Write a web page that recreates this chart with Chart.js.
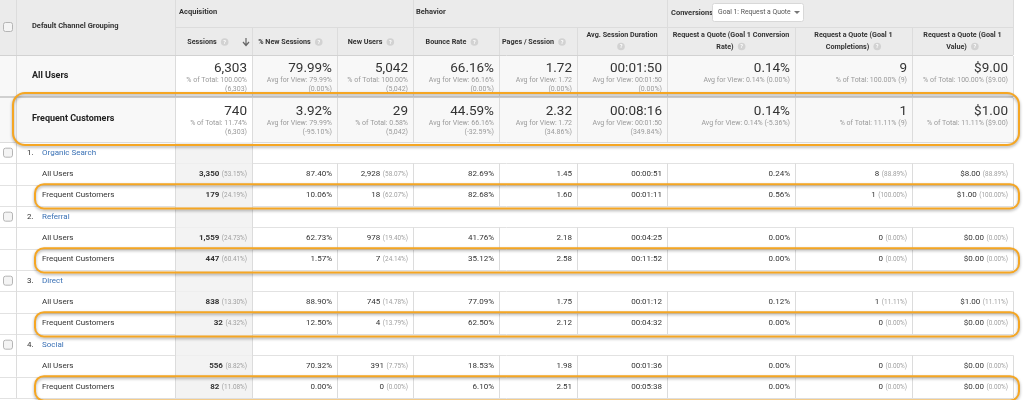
<!DOCTYPE html>
<html>
<head>
<meta charset="utf-8">
<script src="https://cdn.jsdelivr.net/npm/chart.js@4.4.0/dist/chart.umd.min.js"></script>
<style>
  html, body { margin: 0; padding: 0; background: #fff; }
  #wrap { position: relative; width: 1024px; height: 400px; }
</style>
</head>
<body>
<div id="wrap"><canvas id="c"></canvas></div>
<script>
// headers
const groupTitles = ['Acquisition', 'Behavior', 'Conversions'];
const metricHeaders = [
  ['Sessions'], ['% New Sessions'], ['New Users'], ['Bounce Rate'], ['Pages / Session'],
  ['Avg. Session Duration', ''], ['Request a Quote (Goal 1 Conversion', 'Rate)'],
  ['Request a Quote (Goal 1', 'Completions)'], ['Request a Quote (Goal 1', 'Value)']
];
const goalOption = 'Goal 1: Request a Quote';
const channels = ['Organic Search', 'Referral', 'Direct', 'Social'];
const segments = ['All Users', 'Frequent Customers'];

// summary rows
const allUsersTotals = [6303, 79.99, 5042, 66.16, 1.72, 110, 0.14, 9, 9.00];
const allUsersNotes = [
  ['% of Total: 100.00%', '(6,303)'], ['Avg for View: 79.99%', '(0.00%)'], ['% of Total: 100.00%', '(5,042)'],
  ['Avg for View: 66.16%', '(0.00%)'], ['Avg for View: 1.72', '(0.00%)'], ['Avg for View: 00:01:50', '(0.00%)'],
  ['Avg for View: 0.14% (0.00%)'], ['% of Total: 100.00% (9)'], ['% of Total: 100.00% ($9.00)']
];
const frequentTotals = [740, 3.92, 29, 44.59, 2.32, 496, 0.14, 1, 1.00];
const frequentNotes = [
  ['% of Total: 11.74%', '(6,303)'], ['Avg for View: 79.99%', '(-95.10%)'], ['% of Total: 0.58%', '(5,042)'],
  ['Avg for View: 66.16%', '(-32.59%)'], ['Avg for View: 1.72', '(34.86%)'], ['Avg for View: 00:01:50', '(349.84%)'],
  ['Avg for View: 0.14% (-5.36%)'], ['% of Total: 11.11% (9)'], ['% of Total: 11.11% ($9.00)']
];

// channel rows: All Users / Frequent Customers for each channel
const sessions = [3350, 179, 1559, 447, 838, 32, 556, 82];
const sessionsShare = [53.15, 24.19, 24.73, 60.41, 13.30, 4.32, 8.82, 11.08];
const newSessionsPct = [87.40, 10.06, 62.73, 1.57, 88.90, 12.50, 70.32, 0.00];
const newUsers = [2928, 18, 978, 7, 745, 4, 391, 0];
const newUsersShare = [58.07, 62.07, 19.40, 24.14, 14.78, 13.79, 7.75, 0.00];
const bounceRate = [82.69, 82.68, 41.76, 35.12, 77.09, 62.50, 18.53, 6.10];
const pagesPerSession = [1.45, 1.60, 2.18, 2.58, 1.75, 2.12, 1.98, 2.51];
const avgDurationSec = [51, 71, 265, 712, 72, 272, 96, 338];
const convRate = [0.24, 0.56, 0.00, 0.00, 0.12, 0.00, 0.00, 0.00];
const completions = [8, 1, 0, 0, 1, 0, 0, 0];
const completionsShare = [88.89, 100.00, 0.00, 0.00, 11.11, 0.00, 0.00, 0.00];
const goalValue = [8, 1, 0, 0, 1, 0, 0, 0];
const valueShare = [88.89, 100.00, 0.00, 0.00, 11.11, 0.00, 0.00, 0.00];

// formatting
const fInt = (n) => n.toLocaleString('en-US');
const fPct = (n) => n.toFixed(2) + '%';
const fDec = (n) => n.toFixed(2);
const fMoney = (n) => '$' + n.toFixed(2);
const pad = (n) => String(n).padStart(2, '0');
const fDur = (s) => pad(Math.floor(s / 3600)) + ':' + pad(Math.floor(s / 60) % 60) + ':' + pad(s % 60);
const colFormat = [fInt, fPct, fInt, fPct, fDec, fDur, fPct, fInt, fMoney];

const bodyCols = [
  { v: sessions, share: sessionsShare, bold: true },
  { v: newSessionsPct }, { v: newUsers, share: newUsersShare }, { v: bounceRate },
  { v: pagesPerSession }, { v: avgDurationSec }, { v: convRate },
  { v: completions, share: completionsShare }, { v: goalValue, share: valueShare }
];

const rowLabels = [];
const rowKind = [];
channels.forEach((c, i) => {
  rowLabels.push((i + 1) + '. ' + c); rowKind.push({ ch: i });
  segments.forEach((s, j) => { rowLabels.push(s); rowKind.push({ seg: j, idx: i * 2 + j }); });
});

// layout
const colX = [16, 175, 252, 337, 413, 499, 577, 667, 795, 912, 1013];
const FONT = 'Roboto, "Open Sans", sans-serif';
const LINE = '#dcdcdc';
const ORANGE = '#f5a623';

function txt(ctx, s, x, y, font, color, align) {
  ctx.font = font; ctx.fillStyle = color; ctx.textAlign = align || 'left'; ctx.textBaseline = 'middle';
  ctx.fillText(s, x, y);
}
function ln(ctx, x1, y1, x2, y2, color, w) {
  ctx.strokeStyle = color; ctx.lineWidth = w || 1;
  ctx.beginPath(); ctx.moveTo(x1, y1); ctx.lineTo(x2, y2); ctx.stroke();
}
function rr(ctx, x, y, w, h, r) {
  ctx.beginPath(); ctx.roundRect(x, y, w, h, r);
}
function checkbox(ctx, x, y) {
  rr(ctx, x + 0.5, y + 0.5, 9, 9, 2);
  ctx.fillStyle = '#f4f4f4'; ctx.fill(); ctx.strokeStyle = '#b5b5b5'; ctx.lineWidth = 1; ctx.stroke();
}
function help(ctx, x, y) {
  ctx.beginPath(); ctx.arc(x, y, 3.8, 0, Math.PI * 2); ctx.fillStyle = '#d2d2d2'; ctx.fill();
  txt(ctx, '?', x, y + 0.3, 'bold 5.5px ' + FONT, '#fff', 'center');
}

const tablePlugin = {
  id: 'gaTable',
  afterDraw(chart) {
    const ctx = chart.ctx;
    const ys = chart.scales.y;
    const W = 1013;
    ctx.save();

    // header
    ctx.fillStyle = '#ebebeb'; ctx.fillRect(0, 0, W, 55);
    ln(ctx, 0, 55.5, W, 55.5, '#d2d2d2');
    ln(ctx, 175, 27.5, W, 27.5, LINE);
    [16, 175, 413, 667, 1013].forEach((x) => ln(ctx, x + 0.5, 0, x + 0.5, 55, LINE));
    [252, 337, 499, 577, 795, 912].forEach((x) => ln(ctx, x + 0.5, 27, x + 0.5, 55, LINE));
    checkbox(ctx, 3, 22);
    txt(ctx, 'Default Channel Grouping', 32, 26, 'bold 7.5px ' + FONT, '#333');
    txt(ctx, groupTitles[0], 179, 12, 'bold 7.5px ' + FONT, '#333');
    txt(ctx, groupTitles[1], 416, 12, 'bold 7.5px ' + FONT, '#333');
    txt(ctx, groupTitles[2], 671, 13, 'bold 7.5px ' + FONT, '#333');
    // goal dropdown
    rr(ctx, 712.5, 3.5, 91, 18, 2); ctx.fillStyle = '#fff'; ctx.fill(); ctx.strokeStyle = '#d8d8d8'; ctx.stroke();
    txt(ctx, goalOption, 718, 12.5, '6.8px ' + FONT, '#555');
    ctx.fillStyle = '#777'; ctx.beginPath(); ctx.moveTo(794, 11); ctx.lineTo(800, 11); ctx.lineTo(797, 14); ctx.fill();

    // metric headers
    const hf = 'bold 7.2px ' + FONT;
    metricHeaders.forEach((lines, i) => {
      const cx = (colX[i + 1] + colX[i + 2]) / 2 - (lines.length === 1 ? 4 : 0);
      ctx.font = hf;
      if (lines.length === 1) {
        const w = ctx.measureText(lines[0]).width;
        const gx = i === 0 ? 208 : cx;
        const x0 = gx - (w + 12) / 2;
        txt(ctx, lines[0], x0, 42, hf, '#333');
        help(ctx, x0 + w + 8, 42);
      } else {
        txt(ctx, lines[0], cx, 35.5, hf, '#333', 'center');
        ctx.font = hf;
        const w2 = lines[1] ? ctx.measureText(lines[1]).width : -6;
        const x0 = cx - (w2 + 12) / 2;
        if (lines[1]) txt(ctx, lines[1], x0, 47, hf, '#333');
        help(ctx, x0 + w2 + 8, 46.5);
      }
    });
    // sort arrow
    ctx.strokeStyle = '#666'; ctx.lineWidth = 1.2;
    ctx.beginPath(); ctx.moveTo(246, 38); ctx.lineTo(246, 45); ctx.moveTo(243, 42); ctx.lineTo(246, 45.5); ctx.lineTo(249, 42); ctx.stroke();

    // summary rows
    const summary = [
      { top: 56, bot: 97, label: segments[0], tot: allUsersTotals, notes: allUsersNotes, ly: 76, vy: 69, ny: 80.5 },
      { top: 98, bot: 142, label: segments[1], tot: frequentTotals, notes: frequentNotes, ly: 119, vy: 112, ny: 123.5 }
    ];
    summary.forEach((s) => {
      ctx.fillStyle = '#f8f8f8'; ctx.fillRect(0, s.top, W, s.bot - s.top);
      ctx.fillStyle = '#fff'; ctx.fillRect(175, s.top, 77, s.bot - s.top);
      colX.forEach((x) => ln(ctx, x + 0.5, s.top, x + 0.5, s.bot, LINE));
      txt(ctx, s.label, 32, s.ly, 'bold 9px ' + FONT, '#222');
      s.tot.forEach((v, i) => {
        const xr = colX[i + 2] - 5;
        txt(ctx, colFormat[i](v), xr, s.vy, '13.5px ' + FONT, '#333', 'right');
        s.notes[i].forEach((n, k) => txt(ctx, n, xr, s.ny + k * 8.5, '7px ' + FONT, '#9a9a9a', 'right'));
      });
    });
    ln(ctx, 0, 97, W, 97, '#d0d0d0', 2);
    ln(ctx, 0, 142.5, W, 142.5, LINE);

    // channel rows, placed by the category scale
    const rowH = Math.abs(ys.getPixelForValue(1) - ys.getPixelForValue(0));
    rowKind.forEach((r, i) => {
      const cy = ys.getPixelForValue(i);
      const top = cy - rowH / 2, bot = cy + rowH / 2;
      ctx.fillStyle = '#f3f3f3'; ctx.fillRect(176, top, 76, rowH);
      ln(ctx, 0, Math.round(bot) + 0.5, W, Math.round(bot) + 0.5, '#e2e2e2');
      ln(ctx, 16.5, top, 16.5, bot, LINE);
      if (r.ch !== undefined) {
        ln(ctx, 175.5, top, 175.5, bot, LINE); ln(ctx, 252.5, top, 252.5, bot, LINE);
        checkbox(ctx, 3, cy - 5);
        txt(ctx, (r.ch + 1) + '.', 27, cy, '8px ' + FONT, '#333');
        txt(ctx, channels[r.ch], 42, cy, '8px ' + FONT, '#3a71b5');
      } else {
        colX.slice(1).forEach((x) => ln(ctx, x + 0.5, top, x + 0.5, bot, LINE));
        txt(ctx, segments[r.seg], 42, cy, '8px ' + FONT, '#333');
        bodyCols.forEach((c, k) => {
          let xr = colX[k + 2] - 5;
          if (c.share) {
            const st = '(' + c.share[r.idx].toFixed(2) + '%)';
            txt(ctx, st, xr, cy + 0.5, '6.4px ' + FONT, '#a0a0a0', 'right');
            ctx.font = '6.4px ' + FONT;
            xr -= ctx.measureText(st).width + 2.5;
          }
          txt(ctx, colFormat[k](c.v[r.idx]), xr, cy, (c.bold ? 'bold ' : '') + '8px ' + FONT, '#333', 'right');
        });
      }
    });

    // orange highlight boxes
    ctx.shadowColor = 'rgba(0,0,0,0.35)'; ctx.shadowBlur = 3; ctx.shadowOffsetY = 1.5;
    ctx.strokeStyle = ORANGE; ctx.lineWidth = 2;
    rr(ctx, 13, 93, 1006, 52, 12); ctx.stroke();
    rowKind.forEach((r, i) => {
      if (r.seg !== 1) return;
      const cy = ys.getPixelForValue(i);
      rr(ctx, 35, cy - rowH / 2 - 0.5, 984, rowH + 3, 9); ctx.stroke();
    });
    ctx.restore();
  }
};

new Chart(document.getElementById('c'), {
  type: 'bar',
  data: { labels: rowLabels, datasets: [{ data: rowLabels.map(() => null) }] },
  options: {
    indexAxis: 'y',
    responsive: true,
    maintainAspectRatio: false,
    animation: false,
    events: [],
    layout: { padding: { top: 142, bottom: 2, left: 0, right: 0 } },
    plugins: { legend: { display: false }, tooltip: { enabled: false } },
    scales: {
      y: { display: false, offset: true },
      x: { display: false, min: 0, max: 1 }
    }
  },
  plugins: [tablePlugin]
});
</script>
</body>
</html>
